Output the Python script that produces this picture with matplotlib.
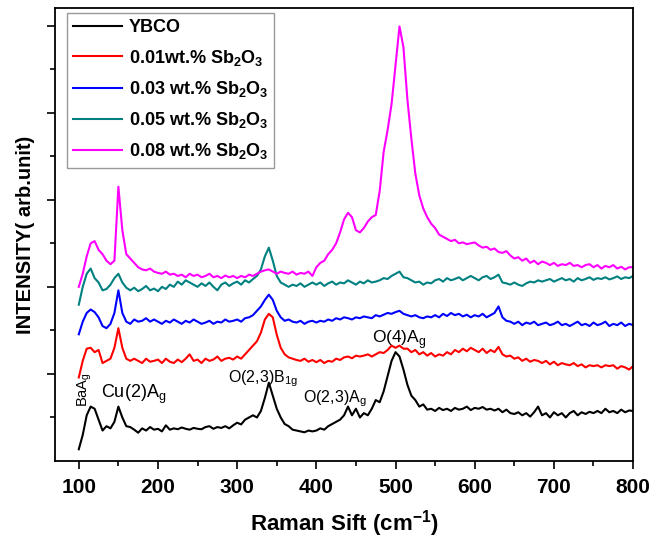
import matplotlib.pyplot as plt
import numpy as np

# Raman shift grid (cm-1), 5 cm-1 steps
shift = np.arange(100, 801, 5)

ybco = [0.27, 0.6, 1.05, 1.25, 1.2, 0.95, 0.7, 0.8, 0.75, 0.9,
        1.25, 1.0, 0.8, 0.78, 0.72, 0.65, 0.75, 0.7, 0.78, 0.72,
        0.74, 0.68, 0.82, 0.72, 0.75, 0.73, 0.77, 0.74, 0.72, 0.76,
        0.74, 0.73, 0.78, 0.8, 0.74, 0.78, 0.76, 0.8, 0.75, 0.82,
        0.88, 0.84, 0.95, 1.0, 1.05, 1.0, 1.15, 1.45, 1.8, 1.5,
        1.2, 1.0, 0.85, 0.8, 0.72, 0.7, 0.68, 0.66, 0.7, 0.68,
        0.7, 0.75, 0.72, 0.8, 0.85, 0.9, 0.95, 1.05, 1.25, 1.05,
        1.2, 1.0, 1.1, 1.05, 1.2, 1.4, 1.35, 1.6, 1.95, 2.3,
        2.5, 2.4, 2.1, 1.75, 1.5, 1.4, 1.25, 1.3, 1.18, 1.2,
        1.15, 1.22, 1.17, 1.2, 1.15, 1.22, 1.18, 1.2, 1.25, 1.17,
        1.22, 1.2, 1.24, 1.18, 1.2, 1.16, 1.2, 1.12, 1.18, 1.1,
        1.08, 1.12, 1.05, 1.1, 1.02, 1.12, 1.25, 1.05, 1.1, 1.0,
        1.12, 1.05, 1.1, 1.0, 1.1, 1.15, 1.05, 1.12, 1.08, 1.13,
        1.1, 1.15, 1.1, 1.2, 1.12, 1.15, 1.1, 1.18, 1.12, 1.16,
        1.15]

sb001 = [1.92, 2.3, 2.58, 2.6, 2.5, 2.55, 2.25, 2.3, 2.35, 2.6,
         3.05, 2.6, 2.35, 2.3, 2.35, 2.3, 2.25, 2.35, 2.28, 2.3,
         2.33, 2.25, 2.35, 2.28, 2.25, 2.33, 2.27, 2.35, 2.45, 2.3,
         2.33, 2.25, 2.35, 2.3, 2.33, 2.4, 2.3, 2.35, 2.37, 2.33,
         2.4, 2.35, 2.45, 2.55, 2.65, 2.75, 2.95, 3.25, 3.38, 3.3,
         2.9, 2.6, 2.45, 2.38, 2.35, 2.32, 2.3, 2.35, 2.28, 2.32,
         2.27, 2.32, 2.25, 2.3, 2.28, 2.35, 2.32, 2.38, 2.4, 2.36,
         2.42, 2.4, 2.42, 2.45, 2.4, 2.45, 2.5, 2.48, 2.55, 2.65,
         2.6, 2.65, 2.58, 2.58, 2.5, 2.55, 2.45, 2.5, 2.42, 2.48,
         2.4, 2.45, 2.42, 2.5, 2.45, 2.55, 2.5, 2.58, 2.52, 2.6,
         2.55, 2.5, 2.58, 2.48, 2.55, 2.5, 2.62, 2.45, 2.4, 2.42,
         2.35, 2.38, 2.3, 2.35, 2.28, 2.32, 2.3, 2.25, 2.3, 2.22,
         2.28, 2.2, 2.25, 2.22, 2.2, 2.25, 2.18, 2.22, 2.15, 2.2,
         2.18, 2.2, 2.15, 2.2, 2.18, 2.2, 2.12, 2.18, 2.15, 2.1,
         2.18]

sb003 = [2.91, 3.2, 3.4, 3.48, 3.42, 3.3, 3.1, 3.05, 3.15, 3.4,
         3.92, 3.4, 3.2, 3.15, 3.25, 3.2, 3.22, 3.28, 3.2, 3.25,
         3.2, 3.15, 3.22, 3.18, 3.25, 3.2, 3.15, 3.22, 3.18, 3.25,
         3.2, 3.15, 3.18, 3.22, 3.15, 3.2, 3.18, 3.25, 3.2, 3.22,
         3.25, 3.2, 3.28, 3.3, 3.35, 3.45, 3.55, 3.7, 3.82, 3.7,
         3.45, 3.3, 3.22, 3.25, 3.2, 3.18, 3.22, 3.15, 3.2, 3.22,
         3.18, 3.22, 3.2, 3.25, 3.22, 3.28, 3.25, 3.3, 3.28, 3.25,
         3.3, 3.28, 3.32, 3.3, 3.28, 3.35, 3.32, 3.36, 3.4, 3.38,
         3.42, 3.45, 3.38, 3.35, 3.32, 3.35, 3.3, 3.28, 3.32, 3.3,
         3.35, 3.3, 3.38, 3.33, 3.4, 3.35, 3.38, 3.32, 3.36, 3.3,
         3.35, 3.32, 3.38, 3.3, 3.35, 3.4, 3.55, 3.3, 3.22, 3.2,
         3.15, 3.2, 3.12, 3.18, 3.15, 3.2, 3.12, 3.15, 3.18, 3.12,
         3.15, 3.2, 3.12, 3.15, 3.1, 3.15, 3.2, 3.12, 3.15, 3.1,
         3.18, 3.12, 3.15, 3.2, 3.1, 3.15, 3.12, 3.18, 3.1, 3.15,
         3.12]

sb005 = [3.59, 4.0, 4.3, 4.42, 4.2, 4.1, 3.92, 3.95, 4.05, 4.2,
         4.3, 4.1, 3.98, 3.92, 3.98, 3.9, 3.95, 4.02, 3.92, 3.96,
         3.9, 4.0, 3.95, 4.05, 4.0, 4.12, 4.05, 4.15, 4.1, 4.05,
         4.0, 4.08, 4.02, 4.1, 4.0, 3.92, 4.05, 4.1, 4.02, 4.08,
         4.12, 4.05, 4.15, 4.1, 4.18, 4.25, 4.4, 4.7, 4.9, 4.6,
         4.25, 4.1, 4.05, 4.0, 4.05, 4.02, 4.08, 4.0, 4.05, 4.1,
         4.05, 4.1, 4.02, 4.08, 4.12, 4.05, 4.1, 4.08, 4.15, 4.1,
         4.05, 4.12, 4.08, 4.15, 4.1, 4.12, 4.15, 4.2, 4.18, 4.25,
         4.3, 4.35, 4.22, 4.2, 4.15, 4.1, 4.12, 4.05, 4.1, 4.08,
         4.15, 4.18, 4.12, 4.2, 4.15, 4.18, 4.22, 4.15, 4.2, 4.25,
         4.2, 4.15, 4.22, 4.25, 4.18, 4.22, 4.28, 4.1, 4.08, 4.05,
         4.1, 4.05, 4.02, 4.08, 4.12, 4.1, 4.15, 4.12, 4.15, 4.18,
         4.12, 4.16, 4.2, 4.15, 4.18, 4.12, 4.2, 4.15, 4.18, 4.22,
         4.16, 4.2, 4.18, 4.22, 4.17, 4.2, 4.24, 4.18, 4.22, 4.2,
         4.25]

sb008 = [4.0, 4.3, 4.7, 5.0, 5.05, 4.85, 4.75, 4.6, 4.52, 4.6,
         6.3, 5.3, 4.75, 4.65, 4.55, 4.45, 4.4, 4.38, 4.42, 4.35,
         4.32, 4.3, 4.35, 4.28, 4.3, 4.25, 4.28, 4.22, 4.3, 4.25,
         4.28, 4.22, 4.25, 4.3, 4.22, 4.25, 4.2, 4.26, 4.22, 4.25,
         4.2, 4.25, 4.22, 4.28, 4.25, 4.3, 4.35, 4.38, 4.4, 4.35,
         4.3, 4.35, 4.32, 4.3, 4.35, 4.28, 4.32, 4.3, 4.35, 4.25,
         4.45, 4.55, 4.6, 4.75, 4.85, 5.0, 5.25, 5.55, 5.7, 5.6,
         5.3, 5.25, 5.35, 5.5, 5.6, 5.65, 6.2, 7.1, 7.6, 8.2,
         9.1, 9.98, 9.5, 8.3, 7.4, 6.6, 6.1, 5.8, 5.6, 5.45,
         5.35, 5.2, 5.15, 5.1, 5.05, 5.08, 5.0, 5.02, 4.98, 5.0,
         5.02, 4.95, 4.9, 4.92, 4.85, 4.88, 4.8, 4.78, 4.82, 4.72,
         4.65, 4.68, 4.6, 4.65, 4.55, 4.6, 4.52, 4.58, 4.55, 4.5,
         4.55, 4.48, 4.52, 4.5, 4.55, 4.48, 4.5, 4.45, 4.5, 4.52,
         4.45, 4.5, 4.42, 4.48, 4.45, 4.5, 4.42, 4.46, 4.4, 4.45,
         4.45]

labels = ['YBCO',
          '0.01wt.% Sb$_\\mathbf{2}$O$_\\mathbf{3}$',
          '0.03 wt.% Sb$_\\mathbf{2}$O$_\\mathbf{3}$',
          '0.05 wt.% Sb$_\\mathbf{2}$O$_\\mathbf{3}$',
          '0.08 wt.% Sb$_\\mathbf{2}$O$_\\mathbf{3}$']
colors = ['black', '#ff0000', '#0000ff', '#008080', '#ff00ff']

plt.rcParams['font.family'] = 'Liberation Sans'
plt.rcParams['mathtext.fontset'] = 'custom'
plt.rcParams['mathtext.rm'] = 'Liberation Sans'
plt.rcParams['mathtext.bf'] = 'Liberation Sans:bold'

fig = plt.figure(figsize=(6.52, 5.42), dpi=100)
ax = fig.add_axes([0.0844, 0.1494, 0.8866, 0.8356])

for ys, c, lab in zip([ybco, sb001, sb003, sb005, sb008], colors, labels):
    ax.plot(shift, ys, color=c, lw=1.5, label=lab)

ax.set_xlim(70, 800)
ax.set_ylim(0, 10.4)
ax.set_xticks(np.arange(100, 801, 100))
ax.set_xticks(np.arange(150, 800, 100), minor=True)
ax.set_yticks(np.arange(2, 11, 2))
ax.set_yticks(np.arange(1, 11, 2), minor=True)
ax.set_yticklabels([])
ax.tick_params(axis='x', which='major', length=6, width=1.2, labelsize=15, pad=6)
ax.tick_params(axis='x', which='minor', length=3.5, width=1.2)
ax.tick_params(axis='y', which='major', length=6, width=1.2)
ax.tick_params(axis='y', which='minor', length=3.5, width=1.2)
for lbl in ax.get_xticklabels():
    lbl.set_fontweight('bold')
for s in ax.spines.values():
    s.set_linewidth(1.3)

ax.set_xlabel('Raman Sift (cm$^{\\mathbf{-1}}$)', fontsize=16, fontweight='bold', labelpad=8)
ax.set_ylabel('INTENSITY( arb.unit)', fontsize=14.5, fontweight='bold', labelpad=5)

# peak assignments
ax.text(107, 1.65, 'BaA$_\\mathregular{g}$', rotation=90, fontsize=10.5,
        ha='center', va='center')
ax.text(128, 1.53, 'Cu(2)A$_\\mathregular{g}$', fontsize=13, va='center')
ax.text(289, 1.9, 'O(2,3)B$_\\mathregular{1g}$', fontsize=11.5, va='center')
ax.text(383, 1.42, 'O(2,3)A$_\\mathregular{g}$', fontsize=11.5, va='center')
ax.text(470, 2.8, 'O(4)A$_\\mathregular{g}$', fontsize=12.5, va='center')

leg = ax.legend(loc='upper left', fontsize=13, handlelength=2.7,
                borderpad=0.35, labelspacing=0.62, handletextpad=0.35,
                fancybox=False, framealpha=1, bbox_to_anchor=(0.021, 0.989),
                borderaxespad=0)
leg.get_frame().set_edgecolor('#999999')
leg.get_frame().set_linewidth(1.0)
for t in leg.get_texts():
    t.set_fontweight('bold')

fig.savefig('out.png', dpi=100)
